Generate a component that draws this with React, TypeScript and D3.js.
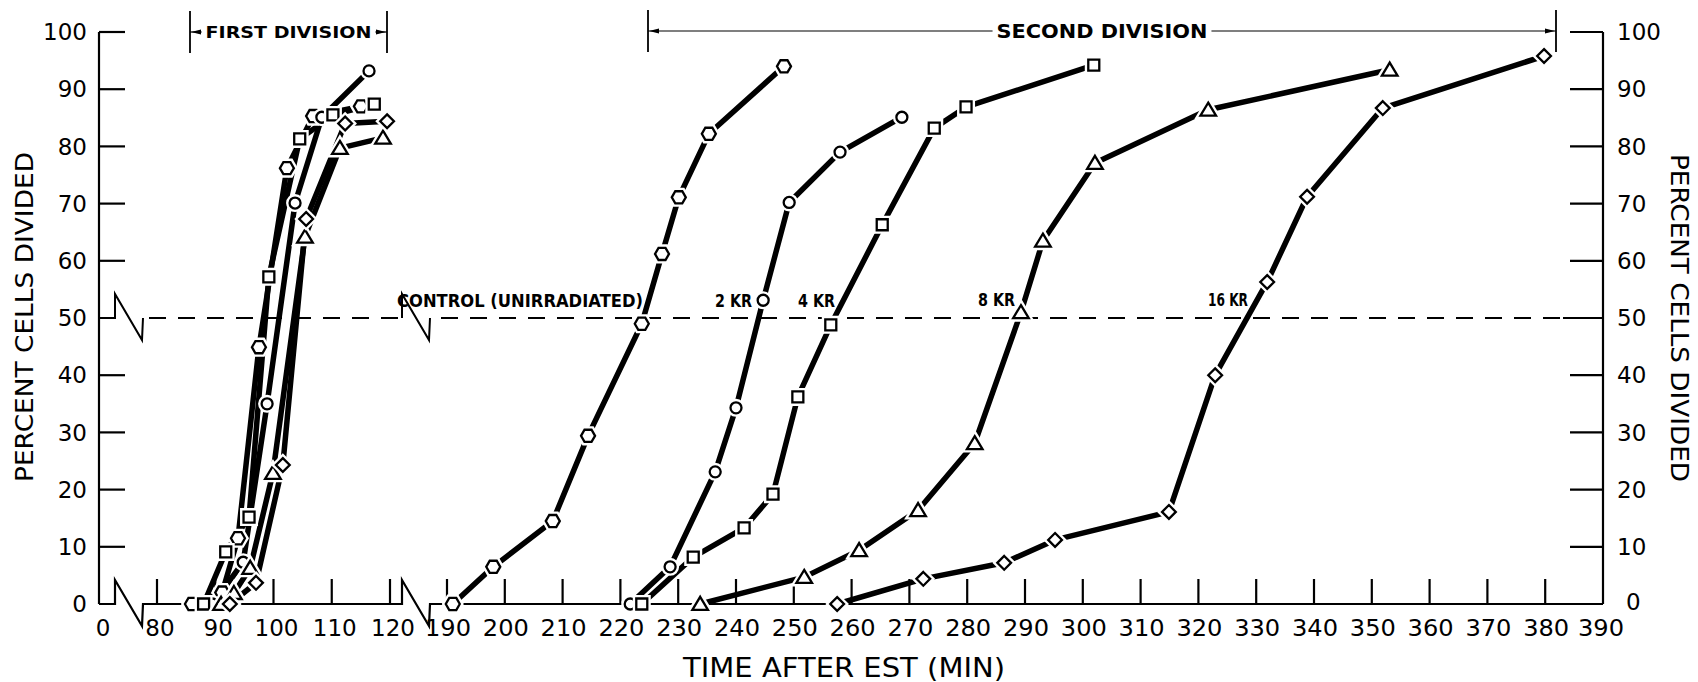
import React from "react";
import * as d3 from "d3";

// first division (break axis 80-120) and second division (190-390), minutes / percent
const controlFirstT = [86, 91.2, 93.9, 97.5, 102.3, 106.8, 115];
const controlFirstV = [0, 2, 11.5, 44.9, 76.2, 85.3, 87];
const controlSecondT = [191, 198, 208.3, 214.4, 223.7, 227.2, 230.1, 235.3, 248.3];
const controlSecondV = [0, 6.5, 14.5, 29.4, 49, 61.2, 71.1, 82.2, 94];

const kr2FirstT = [89.5, 94.8, 98.9, 103.7, 108.3, 116.4];
const kr2FirstV = [0, 7.3, 35, 70.1, 85.1, 93.2];
const kr2SecondT = [221.7, 228.6, 236.4, 240, 244.7, 249.2, 258, 268.7];
const kr2SecondV = [0, 6.5, 23.1, 34.3, 53.1, 70.2, 79, 85.1];

const kr4FirstT = [88, 91.8, 95.8, 99.2, 104.5, 110.2, 117.3];
const kr4FirstV = [0, 9.1, 15.2, 57.2, 81.3, 85.5, 87.4];
const kr4SecondT = [223.7, 232.6, 241.4, 246.4, 250.7, 256.4, 265.3, 274.3, 279.8, 301.9];
const kr4SecondV = [0, 8.2, 13.3, 19.2, 36.2, 48.8, 66.3, 83.2, 86.9, 94.2];

const kr8FirstT = [91, 93.2, 96, 99.9, 105.4, 111.4, 118.8];
const kr8FirstV = [0, 1.9, 6.3, 22.9, 64.2, 79.7, 81.5];
const kr8SecondT = [233.8, 251.8, 261.3, 271.5, 281.3, 289.3, 293.1, 302.1, 321.7, 353.1];
const kr8SecondV = [0, 4.7, 9.4, 16.4, 28.1, 51, 63.5, 77.1, 86.4, 93.4];

const kr16FirstT = [92.5, 97, 101.6, 105.6, 112.3, 119.5];
const kr16FirstV = [0, 3.7, 24.3, 67.3, 84, 84.4];
const kr16SecondT = [257.5, 272.4, 286.4, 295.2, 314.9, 322.9, 331.9, 338.8, 351.9, 379.8];
const kr16SecondV = [0, 4.4, 7.2, 11.2, 16.1, 40, 56.3, 71.2, 86.7, 95.8];

const firstTicks = [80, 90, 100, 110, 120];
const secondTicks = [190, 200, 210, 220, 230, 240, 250, 260, 270, 280, 290, 300, 310, 320, 330, 340, 350, 360, 370, 380, 390];
const yTicks = [0, 10, 20, 30, 40, 50, 60, 70, 80, 90, 100];

const W = 1698;
const H = 682;
const FONT = "'DejaVu Sans', 'Liberation Sans', sans-serif";

const xA = d3.scaleLinear().domain([80, 120]).range([157, 390]);
const xB = d3.scaleLinear().domain([190, 390]).range([447, 1603]);
const x = (t: number) => (t < 150 ? xA(t) : xB(t));
const y = d3.scaleLinear().domain([0, 100]).range([604, 32]);
const x0 = 99; // the "0" on the time axis sits under the left axis

type Shape = "hex" | "circle" | "square" | "triangle" | "diamond";

const markerPath = (shape: Shape, s: number) => {
  if (shape === "circle") return d3.symbol(d3.symbolCircle, Math.PI * s * s)() as string;
  if (shape === "hex") {
    const pts = d3.range(6).map((i) => {
      const a = (Math.PI / 3) * i;
      return [s * Math.cos(a), s * Math.sin(a)] as [number, number];
    });
    return d3.line()(pts) + "Z";
  }
  if (shape === "square") return `M${-s},${-s}H${s}V${s}H${-s}Z`;
  if (shape === "diamond") return `M0,${-s * 1.25}L${s * 1.25},0L0,${s * 1.25}L${-s * 1.25},0Z`;
  return `M0,${-s * 1.1}L${s * 1.2},${s * 0.9}L${-s * 1.2},${s * 0.9}Z`;
};

const series: { shape: Shape; size: number; parts: [number[], number[]][] }[] = [
  { shape: "hex", size: 7, parts: [[controlFirstT, controlFirstV], [controlSecondT, controlSecondV]] },
  { shape: "circle", size: 5.5, parts: [[kr2FirstT, kr2FirstV], [kr2SecondT, kr2SecondV]] },
  { shape: "square", size: 5.5, parts: [[kr4FirstT, kr4FirstV], [kr4SecondT, kr4SecondV]] },
  { shape: "triangle", size: 6.5, parts: [[kr8FirstT, kr8FirstV], [kr8SecondT, kr8SecondV]] },
  { shape: "diamond", size: 5.5, parts: [[kr16FirstT, kr16FirstV], [kr16SecondT, kr16SecondV]] },
];

const line = d3
  .line<[number, number]>()
  .x((d) => x(d[0]))
  .y((d) => y(d[1]));

// axis break: up, slanted down, back up to the line
const breakSteps = (bx: number, by: number) => `V${by - 24}L${bx + 27},${by + 22}L${bx + 28},${by}`;

const Bracket = ({ x1, x2, yy, label, size }: { x1: number; x2: number; yy: number; label: string; size: number }) => {
  const mid = (x1 + x2) / 2;
  const half = label.length * size * 0.37;
  return (
    <g stroke="#000" fill="#000">
      <line x1={x1} x2={x1} y1={yy - 21} y2={yy + 21} strokeWidth={1.8} />
      <line x1={x2} x2={x2} y1={yy - 21} y2={yy + 21} strokeWidth={1.8} />
      <line x1={x1} x2={mid - half - 4} y1={yy} y2={yy} strokeWidth={1.2} />
      <line x1={mid + half + 4} x2={x2} y1={yy} y2={yy} strokeWidth={1.2} />
      <path d={`M${x1 + 1},${yy}l10,-2.5v5Z`} stroke="none" />
      <path d={`M${x2 - 1},${yy}l-10,-2.5v5Z`} stroke="none" />
      <text x={mid} y={yy + size * 0.36} textAnchor="middle" stroke="none" fontFamily={FONT} fontWeight="bold" fontSize={size} textLength={half * 2} lengthAdjust="spacingAndGlyphs">
        {label}
      </text>
    </g>
  );
};

export default function App() {
  const y50 = y(50);
  const yBase = y(0);
  const xR = xB(390);
  return (
    <svg width={W} height={H} style={{ position: "absolute", left: 0, top: 0, background: "#fff" }}>
      <rect width={W} height={H} fill="#fff" />
      {/* axes */}
      <g stroke="#000" strokeWidth={2.2} fill="none">
        <line x1={x0} x2={x0} y1={y(0)} y2={y(100)} />
        <line x1={xR} x2={xR} y1={y(0)} y2={y(100)} />
        <path d={`M${x0},${yBase}H115${breakSteps(115, yBase)}H402${breakSteps(402, yBase)}H${xR}`} />
        {yTicks.filter((v) => v > 0 && v !== 50).map((v) => (
          <line key={"l" + v} x1={x0} x2={x0 + 26} y1={y(v)} y2={y(v)} />
        ))}
        {yTicks.filter((v) => v > 0).map((v) => (
          <line key={"r" + v} x1={xR - 33} x2={xR} y1={y(v)} y2={y(v)} />
        ))}
        {firstTicks.map((t) => (
          <line key={"a" + t} x1={xA(t)} x2={xA(t)} y1={yBase} y2={yBase - 25} />
        ))}
        {secondTicks.filter((t) => t < 390).map((t) => (
          <line key={"b" + t} x1={xB(t)} x2={xB(t)} y1={yBase} y2={yBase - 25} />
        ))}
        {/* 50 percent line */}
        <path d={`M${x0},${y50}H115${breakSteps(115, y50)}`} strokeWidth={2} />
        <path d={`M402,${y50}${breakSteps(402, y50)}`} strokeWidth={2} />
        <line x1={143} x2={402} y1={y50} y2={y50} strokeDasharray="17,12" strokeWidth={2} strokeDashoffset={-6} />
        <line x1={433} x2={xR - 40} y1={y50} y2={y50} strokeDasharray="17,12" strokeWidth={2} strokeDashoffset={-8} />
        <line x1={xR - 40} x2={xR} y1={y50} y2={y50} strokeWidth={2} />
      </g>

      {/* tick labels */}
      <g fontFamily={FONT} fontSize={23} fill="#000">
        {yTicks.map((v) => (
          <text key={"yl" + v} x={87} y={y(v)} dy="0.36em" textAnchor="end">{v}</text>
        ))}
        {yTicks.map((v) => (
          <text key={"yr" + v} x={v === 0 ? 1626 : 1617} y={v === 0 ? y(v) - 2 : y(v)} dy="0.36em" textAnchor="start">{v}</text>
        ))}
        <text x={x0 + 4} y={636} textAnchor="middle">0</text>
        {firstTicks.map((t) => (
          <text key={"xa" + t} x={xA(t) + 3} y={636} textAnchor="middle">{t}</text>
        ))}
        {secondTicks.map((t) => (
          <text key={"xb" + t} x={xB(t) + (t === 390 ? -2 : 1)} y={636} textAnchor="middle" textLength={46} lengthAdjust="spacingAndGlyphs">{t}</text>
        ))}
      </g>

      {/* axis titles */}
      <g fontFamily={FONT} fontSize={24} fill="#000">
        <text transform={`translate(33,317) rotate(-90)`} textAnchor="middle" textLength={330} lengthAdjust="spacingAndGlyphs">PERCENT CELLS DIVIDED</text>
        <text transform={`translate(1671,318) rotate(90)`} textAnchor="middle" textLength={328} lengthAdjust="spacingAndGlyphs">PERCENT CELLS DIVIDED</text>
        <text x={844} y={677} textAnchor="middle" fontSize={26} textLength={322} lengthAdjust="spacingAndGlyphs">TIME AFTER EST (MIN)</text>
      </g>

      <Bracket x1={190} x2={387} yy={32} label="FIRST DIVISION" size={16} />
      <Bracket x1={648} x2={1556} yy={31} label="SECOND DIVISION" size={19} />

      {/* series lines */}
      <g fill="none" stroke="#000" strokeWidth={5.5} strokeLinejoin="round">
        {series.map((s, i) =>
          s.parts.map(([ts, vs], j) => (
            <path key={`p${i}-${j}`} d={line(ts.map((t, k) => [t, vs[k]] as [number, number])) as string} />
          ))
        )}
      </g>
      {/* markers with a white gap round them */}
      {series.map((s, i) =>
        s.parts.map(([ts, vs], j) =>
          ts.map((t, k) => (
            <g key={`m${i}-${j}-${k}`} transform={`translate(${x(t)},${y(vs[k])})`}>
              <path d={markerPath(s.shape, s.size)} fill="#fff" stroke="#fff" strokeWidth={7} />
              <path d={markerPath(s.shape, s.size)} fill="#fff" stroke="#000" strokeWidth={2.3} />
            </g>
          ))
        )
      )}

      {/* curve labels */}
      <g fontFamily={FONT} fontWeight="bold" fontSize={17} fill="#000">
        <text x={397} y={307} textLength={246} lengthAdjust="spacingAndGlyphs">CONTROL (UNIRRADIATED)</text>
        <text x={715} y={307} textLength={37} lengthAdjust="spacingAndGlyphs">2 KR</text>
        <text x={798} y={307} textLength={37} lengthAdjust="spacingAndGlyphs">4 KR</text>
        <text x={978} y={306} textLength={37} lengthAdjust="spacingAndGlyphs">8 KR</text>
        <text x={1208} y={306} textLength={40} lengthAdjust="spacingAndGlyphs">16 KR</text>
      </g>
    </svg>
  );
}
